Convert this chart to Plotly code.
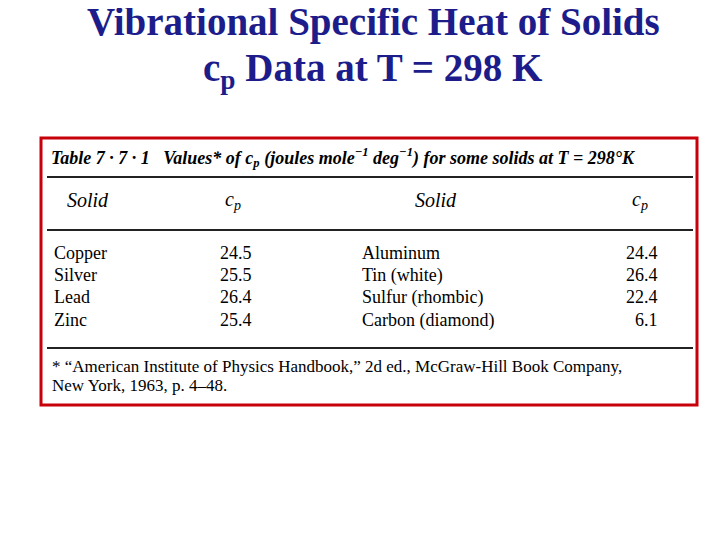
import plotly.graph_objects as go

title_line1 = "Vibrational Specific Heat of Solids"
title_line2 = "c<sub>p</sub> Data at T = 298 K"
table_caption = "<b><i>Table 7 · 7 · 1   Values* of c<sub>p</sub> (joules mole<sup>−1</sup> deg<sup>−1</sup>) for some solids at T = 298°K</i></b>"
col_headers = ["Solid", "c<sub>p</sub>", "Solid", "c<sub>p</sub>"]
solids_left = ["Copper", "Silver", "Lead", "Zinc"]
cp_left = [24.5, 25.5, 26.4, 25.4]
solids_right = ["Aluminum", "Tin (white)", "Sulfur (rhombic)", "Carbon (diamond)"]
cp_right = [24.4, 26.4, 22.4, 6.1]
footnote = ["* “American Institute of Physics Handbook,” 2d ed., McGraw-Hill Book Company,",
            "New York, 1963, p. 4–48."]

fig = go.Figure()
serif = "Liberation Serif"
blue = "#1c1c8a"

def txt(x, y, s, size=18, anchor="left", color="black", fam=serif):
    fig.add_annotation(x=x, y=y, text=s, showarrow=False, xanchor=anchor, yanchor="middle",
                       font=dict(family=fam, size=size, color=color))

txt(373, 22, "<b>" + title_line1 + "</b>", size=39, anchor="center", color=blue)
txt(373, 70, "<b>" + title_line2 + "</b>", size=39, anchor="center", color=blue)

# red frame and rules
fig.add_shape(type="rect", x0=41, y0=138, x1=697, y1=405, line=dict(color="#c8000a", width=3))
for y in [177, 230, 348]:
    fig.add_shape(type="line", x0=47, x1=693, y0=y, y1=y, line=dict(color="#222", width=2))

txt(49, 157, table_caption, size=18)
for x, h in zip([65, 233, 413, 640], col_headers):
    txt(x, 200, "<i>" + h + "</i>", size=20, anchor="left" if h == "Solid" else "center")

row_y = [253, 275, 297, 320]
for i in range(len(solids_left)):
    txt(52, row_y[i], solids_left[i])
    txt(254, row_y[i], f"{cp_left[i]:.1f}", anchor="right")
    txt(360, row_y[i], solids_right[i])
    txt(660, row_y[i], f"{cp_right[i]:.1f}", anchor="right")

txt(50, 366, footnote[0], size=17)
txt(50, 385, footnote[1], size=17)

fig.update_xaxes(range=[8, 728], visible=False)
fig.update_yaxes(range=[548, 8], visible=False)
fig.update_layout(width=720, height=540, margin=dict(l=0, r=0, t=0, b=0),
                  plot_bgcolor="white", paper_bgcolor="white", showlegend=False)
fig.write_html("out.html")
